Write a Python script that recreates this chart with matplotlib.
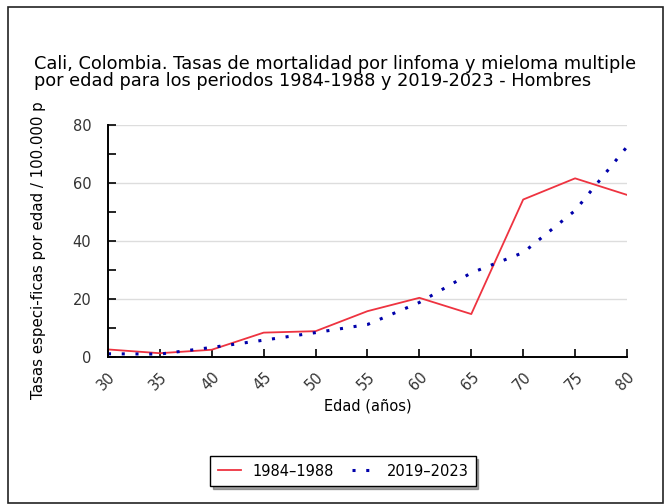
import matplotlib
matplotlib.use("Agg")
import matplotlib.pyplot as plt
from matplotlib.patches import Rectangle

edades = [30, 35, 40, 45, 50, 55, 60, 65, 70, 75, 80]
tasas_1984_1988 = [2.6, 1.3, 2.5, 8.4, 8.9, 15.8, 20.4, 14.8, 54.3, 61.6, 55.9]
tasas_2019_2023 = [1.1, 1.0, 3.3, 5.8, 8.4, 11.2, 18.8, 29.0, 36.0, 50.5, 72.5]
etiquetas_x = [str(e) for e in edades]

titulo = ("Cali, Colombia. Tasas de mortalidad por linfoma y mieloma multiple\n"
          "por edad para los periodos 1984-1988 y 2019-2023 - Hombres")

fig = plt.figure(figsize=(6.69, 5.04), dpi=100)
ax = fig.add_axes([0.1614, 0.2917, 0.7758, 0.4603])

# marco exterior
fig.patches.append(Rectangle((8 / 669, 1 - 503 / 504), 655 / 669, 496 / 504,
                             transform=fig.transFigure, fill=False,
                             edgecolor="#222222", linewidth=1.2))

ax.plot(edades, tasas_1984_1988, color="#ee3340", linewidth=1.3, label="1984–1988")
ax.plot(edades, tasas_2019_2023, color="#0000aa", linewidth=2.2,
        linestyle=(0, (1, 3.5)), label="2019–2023")

ax.set_xlim(30, 80)
ax.set_ylim(0, 80)
ax.set_xticks(edades)
ax.set_xticklabels(etiquetas_x, rotation=45, ha="right", va="top",
                   rotation_mode="anchor", fontsize=9, color="#333333")
ax.set_yticks([0, 20, 40, 60, 80])
ax.set_yticks([10, 30, 50, 70], minor=True)
ax.tick_params(axis="both", direction="in", length=6, width=1.2, labelsize=10.5,
               labelcolor="#333333")
ax.tick_params(axis="x", pad=9)
ax.tick_params(axis="y", which="minor", direction="in", length=6, width=1.2)
ax.tick_params(axis="y", pad=12)
ax.yaxis.grid(True, color="#dddddd", linewidth=1)
ax.set_axisbelow(True)
for s in ["top", "right"]:
    ax.spines[s].set_visible(False)
for s in ["left", "bottom"]:
    ax.spines[s].set_linewidth(1.4)

ax.set_xlabel("Edad (años)", fontsize=10.5, labelpad=4)
fig.text(0.058, 1 - 250 / 504, "Tasas especi-ficas por edad / 100.000 p", rotation=90,
         ha="center", va="center", fontsize=10.8)

fig.text(34 / 669, 1 - 55 / 504, titulo, ha="left", va="top", fontsize=12.8,
         linespacing=0.95)

fig.legend(loc="center", bbox_to_anchor=(343 / 669, 1 - 471 / 504), ncol=2,
           frameon=True, fancybox=False, shadow=True, edgecolor="black",
           fontsize=10.5, handlelength=1.6, columnspacing=1.2, borderpad=0.5)

fig.savefig("out.png", dpi=100)
